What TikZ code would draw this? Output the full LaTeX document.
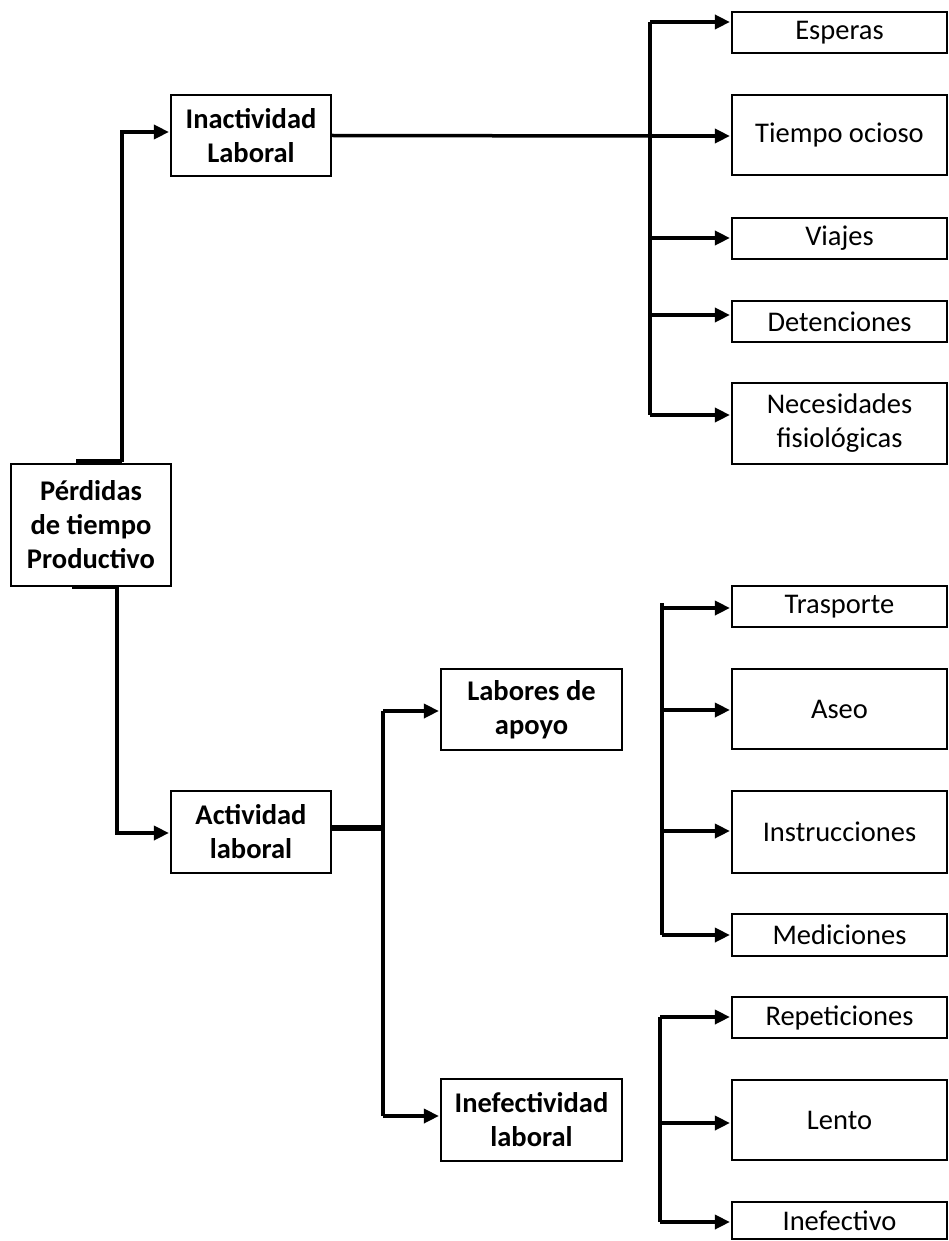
\documentclass[tikz,border=0pt]{standalone}
\usepackage{fontspec}
\setmainfont{Carlito}
\usetikzlibrary{arrows.meta}
\begin{document}
\begin{tikzpicture}[x=1pt,y=-1pt,
  box/.style={draw, line width=2.2pt, inner sep=0pt, align=center,
    font=\fontsize{28.5}{34}\selectfont},
  bbox/.style={box, font=\fontsize{28.5}{34}\selectfont\bfseries},
  rbox/.style={box, minimum width=215pt},
  conn/.style={line width=3.5pt},
  thickconn/.style={line width=5.5pt},
  arr/.style={line width=3.5pt, -{Triangle[length=15pt,width=14pt]}, shorten >=1pt}
]
\useasboundingbox (0,0) rectangle (949,1241);

% main nodes
\node[bbox, minimum width=160pt, minimum height=81pt] (inact) at (251,135.5) {Inactividad\\Laboral};
\node[bbox, minimum width=160pt, minimum height=122pt] (perd) at (91,525) {Pérdidas\\de tiempo\\Productivo};
\node[bbox, minimum width=160pt, minimum height=82pt] (activ) at (251,832) {Actividad\\laboral};
\node[bbox, minimum width=181pt, minimum height=81pt] (labo) at (531.5,709.5) {Labores de\\apoyo};
\node[bbox, minimum width=181pt, minimum height=82pt] (inef) at (531.5,1120) {Inefectividad\\laboral};

% right boxes
\node[rbox, minimum height=41pt] (esperas) at (839.5,32.5) {Esperas};
\node[rbox, minimum height=80pt] (tiempo) at (839.5,135) {Tiempo ocioso};
\node[rbox, minimum height=41pt] (viajes) at (839.5,238.5) {Viajes};
\node[rbox, minimum height=41pt] (deten) at (839.5,321.5) {Detenciones};
\node[rbox, minimum height=81pt] (neces) at (839.5,423.5) {Necesidades\\fisiológicas};
\node[rbox, minimum height=41pt] (trasp) at (839.5,606.5) {Trasporte};
\node[rbox, minimum height=80pt] (aseo) at (839.5,709) {Aseo};
\node[rbox, minimum height=82pt] (instr) at (839.5,832) {Instrucciones};
\node[rbox, minimum height=42pt] (medic) at (839.5,935) {Mediciones};
\node[rbox, minimum height=41pt] (repet) at (839.5,1017.5) {Repeticiones};
\node[rbox, minimum height=80pt] (lento) at (839.5,1120) {Lento};
\node[rbox, minimum height=37pt] (inefv) at (839.5,1220.5) {Inefectivo};

% coordinates
\coordinate (pa) at (76,462);
\coordinate (pb) at (122,462);
\coordinate (pc) at (122,132);
\coordinate (qa) at (72,587);
\coordinate (qb) at (117,587);
\coordinate (qc) at (117,833);
\coordinate (aa) at (383,828);
\coordinate (ab) at (383,711);
\coordinate (ac) at (383,1116);

\coordinate (t0) at (650,22);
\coordinate (t1) at (650,136);
\coordinate (t2) at (650,238);
\coordinate (t3) at (650,315);
\coordinate (t4) at (650,415);
\coordinate (u0) at (662,603);
\coordinate (u1) at (662,608);
\coordinate (u2) at (662,710);
\coordinate (u3) at (662,831);
\coordinate (u4) at (662,935);
\coordinate (v1) at (660,1017);
\coordinate (v2) at (660,1123);
\coordinate (v3) at (660,1222);

% Perdidas -> Inactividad
\draw[thickconn] (pa) -- (pb);
\draw[arr] (pb) -- (pc) -- (pc -| inact.west);
% Perdidas -> Actividad
\draw[conn] (qa) -- (qb);
\draw[arr] (qb) -- (qc) -- (qc -| activ.west);

% Inactividad -> bus
\draw[conn] (inact.east) -- (t1);
\draw[conn] (t0) -- (t4);
\draw[arr] (t0) -- (t0 -| esperas.west);
\draw[arr] (t1) -- (t1 -| tiempo.west);
\draw[arr] (t2) -- (t2 -| viajes.west);
\draw[arr] (t3) -- (t3 -| deten.west);
\draw[arr] (t4) -- (t4 -| neces.west);

% Actividad -> Labores / Inefectividad
\draw[thickconn] (activ.east |- aa) -- (aa);
\draw[conn] (ab) -- (ac);
\draw[arr] (ab) -- (ab -| labo.west);
\draw[arr] (ac) -- (ac -| inef.west);

% Labores group
\draw[conn] (u0) -- (u4);
\draw[arr] (u1) -- (u1 -| trasp.west);
\draw[arr] (u2) -- (u2 -| aseo.west);
\draw[arr] (u3) -- (u3 -| instr.west);
\draw[arr] (u4) -- (u4 -| medic.west);

% Inefectividad group
\draw[conn] (v1) -- (v3);
\draw[arr] (v1) -- (v1 -| repet.west);
\draw[arr] (v2) -- (v2 -| lento.west);
\draw[arr] (v3) -- (v3 -| inefv.west);
\end{tikzpicture}
\end{document}
